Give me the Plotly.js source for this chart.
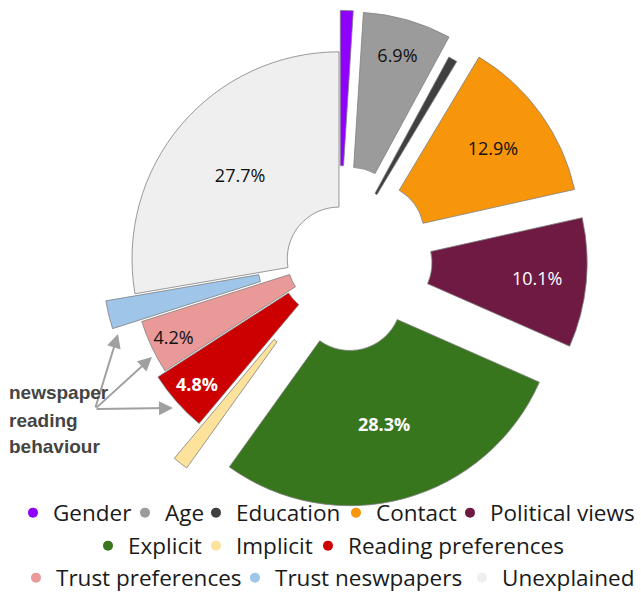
<!DOCTYPE html>
<html>
<head>
<meta charset="utf-8">
<script src="https://cdn.plot.ly/plotly-3.0.1.min.js"></script>
<style>html,body{margin:0;padding:0;background:#fff;}#chart{width:641px;height:594px;}</style>
</head>
<body>
<div id="chart"></div>
<script>
// ---- data ----
const labels = ['Gender', 'Age', 'Education', 'Contact', 'Political views', 'Explicit', 'Implicit',
                'Reading preferences', 'Trust preferences', 'Trust neswpapers', 'Unexplained'];
const shares = [1.0, 6.9, 0.7, 12.9, 10.1, 28.3, 1.2, 4.8, 4.2, 2.2, 27.7];
const annotationLines = ['newspaper', 'reading', 'behaviour'];

// ---- styles / layout positions ----
const colors = ['#8f00ff', '#9b9b9b', '#404040', '#f7950b', '#6f1a43', '#38761d', '#fde29b',
                '#cc0000', '#ea9999', '#9fc5e8', '#efefef'];
const pulls = [0.2, 0.2, 0.11, 0.2, 0.2, 0.2, 0.25, 0.045, 0, 0.145, 0];
const labelColors = ['#000', '#111', '#fff', '#111', '#fff', '#fff', '#000', '#fff', '#111', '#000', '#111'];
const labelBold = [false, false, false, false, false, true, false, true, false, false, false];
// legend entry placement (text start x, row centre y) in pixels
const legendTextX = [53, 165, 236, 376, 490, 128, 236, 348, 56, 275, 502];
const legendRowY = [513, 513, 513, 513, 513, 546, 546, 546, 578, 578, 578];
const W = 641, H = 594;

const sliceText = shares.map((v, i) => {
  if (v < 4) return '';
  const t = v.toFixed(1) + '%';
  return labelBold[i] ? '<b>' + t + '</b>' : t;
});

const pie = {
  type: 'pie',
  labels: labels,
  values: shares,
  sort: false,
  direction: 'clockwise',
  rotation: 0,
  hole: 0.25,
  pull: pulls,
  text: sliceText,
  textinfo: 'text',
  textposition: 'inside',
  insidetextorientation: 'horizontal',
  insidetextfont: {family: 'Open Sans', size: 18, color: labelColors},
  marker: {colors: colors, line: {color: '#808080', width: 0.8}},
  showlegend: false,
  hoverinfo: 'label+percent',
  domain: {x: [0.1252, 0.9325], y: [0.1286, 1.0]}
};

const legendName = i => (i === 0 ? 'legend' : 'legend' + (i + 1));

const legendTraces = labels.map((name, i) => ({
  type: 'scatter',
  mode: 'markers',
  x: [null], y: [null],
  name: name,
  marker: {color: colors[i], size: 10, symbol: 'circle'},
  legend: legendName(i),
  showlegend: true,
  hoverinfo: 'skip'
}));

const TEXT_OFFSET = 40; // px from legend left edge to entry text
const layout = {
  width: W, height: H,
  margin: {l: 0, r: 0, t: 0, b: 0, autoexpand: false},
  paper_bgcolor: '#fff', plot_bgcolor: '#fff',
  xaxis: {visible: false, range: [0, 1]},
  yaxis: {visible: false, range: [0, 1]},
  annotations: []
};
labels.forEach((name, i) => {
  layout[legendName(i)] = {
    orientation: 'h',
    xanchor: 'left',
    yanchor: 'middle',
    x: (legendTextX[i] - TEXT_OFFSET) / W,
    y: 1 - legendRowY[i] / H,
    font: {family: 'Open Sans', size: 22.5, color: '#1a1a1a'},
    bgcolor: 'rgba(0,0,0,0)',
    borderwidth: 0,
    itemwidth: 30
  };
});

// arrows (head x,y in px ; tail at common point)
const tail = [95, 409];
const heads = [[118, 334], [152, 357], [173, 408]];
heads.forEach(h => layout.annotations.push({
  xref: 'paper', yref: 'paper',
  x: h[0] / W, y: 1 - h[1] / H,
  ax: tail[0] - h[0], ay: tail[1] - h[1],
  axref: 'pixel', ayref: 'pixel',
  text: '', showarrow: true,
  arrowhead: 2, arrowsize: 1.4, arrowwidth: 2, arrowcolor: '#a0a0a0'
}));
const lineY = [392, 420, 446];
annotationLines.forEach((t, k) => layout.annotations.push({
  xref: 'paper', yref: 'paper',
  x: 7 / W, y: 1 - lineY[k] / H,
  xanchor: 'left', yanchor: 'middle', align: 'left',
  text: '<b>' + t + '</b>',
  showarrow: false,
  font: {family: 'Liberation Sans', size: 19, color: '#444'}
}));

Plotly.newPlot('chart', [pie].concat(legendTraces), layout, {displayModeBar: false, staticPlot: true});
</script>
</body>
</html>
